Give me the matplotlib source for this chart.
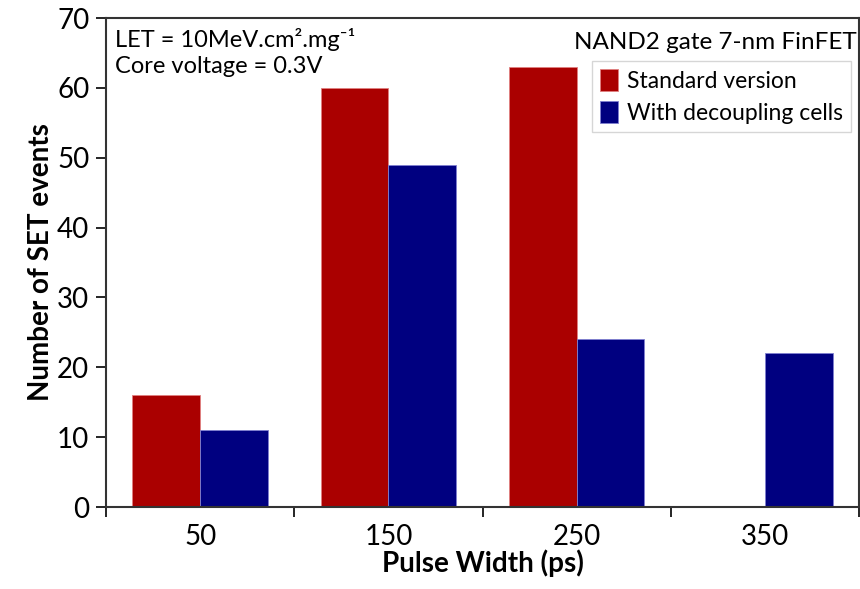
import matplotlib.pyplot as plt
import numpy as np

plt.rcParams['font.family'] = ['Lato', 'DejaVu Sans']

pulse_width = ['50', '150', '250', '350']
standard = [16, 60, 63, 0]
decoupling = [11, 49, 24, 22]

fig = plt.figure(figsize=(8.6, 5.89), dpi=100)
ax = fig.add_axes([0.1233, 0.1392, 0.8755, 0.8302])

x = np.arange(len(pulse_width))
w = 0.36
ax.bar(x - w / 2, standard, w, color='#aa0000', edgecolor='#e08080', linewidth=0.6,
       label='Standard version')
ax.bar(x + w / 2, decoupling, w, color='#000080', edgecolor='#8080d0', linewidth=0.6,
       label='With decoupling cells')

ax.set_xlim(-0.5, len(pulse_width) - 0.5)
ax.set_ylim(0, 70)
ax.set_yticks(range(0, 71, 10))
ax.set_xticks(x)
ax.set_xticklabels(pulse_width)
ax.set_xticks(np.arange(-0.5, len(pulse_width)), minor=True)
ax.tick_params(axis='x', which='major', length=0, labelsize=20, pad=12)
ax.tick_params(axis='x', which='minor', length=7, width=1.2, direction='out')
ax.tick_params(axis='y', labelsize=20, length=7, width=1.2, direction='out', pad=5)
for s in ax.spines.values():
    s.set_linewidth(1.5)
    s.set_color('#333333')

ax.set_xlabel('Pulse Width (ps)', fontsize=20, fontweight='bold', labelpad=0)
ax.set_ylabel('Number of SET events', fontsize=20, fontweight='bold', labelpad=2)

ax.text(0.012, 0.98, 'LET = 10MeV.cm².mg⁻¹\nCore voltage = 0.3V',
        transform=ax.transAxes, ha='left', va='top', fontsize=17, linespacing=1.3)
ax.text(0.997, 0.949, 'NAND2 gate 7-nm FinFET', transform=ax.transAxes,
        ha='right', va='center', fontsize=17.5)

leg = ax.legend(loc='upper right', bbox_to_anchor=(0.99, 0.912), fontsize=16.5,
                frameon=True, fancybox=False, handlelength=0.8, handleheight=1.1,
                handletextpad=0.4, borderpad=0.35, labelspacing=0.4,
                borderaxespad=0)
leg.get_frame().set_edgecolor('#cccccc')
leg.get_frame().set_linewidth(1.0)

fig.savefig('out.png', dpi=100)
